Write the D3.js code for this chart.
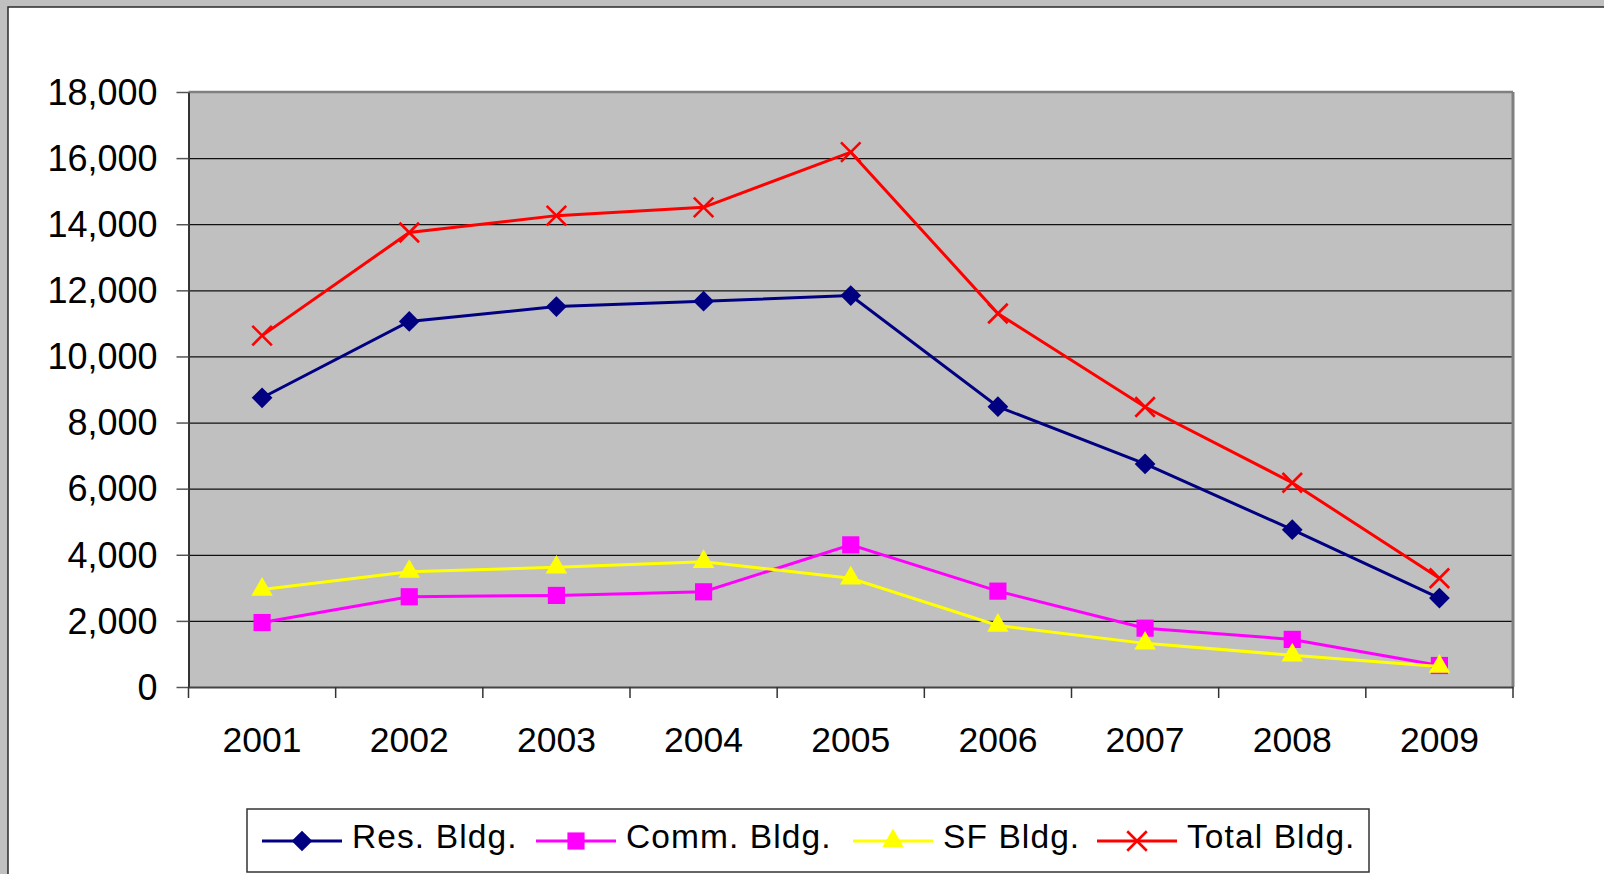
<!DOCTYPE html>
<html>
<head>
<meta charset="utf-8">
<script src="https://cdn.jsdelivr.net/npm/d3@7"></script>
<style>
  html, body { margin: 0; padding: 0; background: #c0c0c0; overflow: hidden; }
  svg { display: block; }
  text { font-family: "Liberation Sans", Arial, sans-serif; fill: #000; }
</style>
</head>
<body>
<svg id="chart" width="1604" height="874"></svg>
<script>
const years = ["2001","2002","2003","2004","2005","2006","2007","2008","2009"];
const resBldg   = [8750, 11060, 11510, 11670, 11840, 8480, 6750, 4760, 2690];
const commBldg  = [1950, 2730, 2770, 2880, 4300, 2900, 1780, 1440, 650];
const sfBldg    = [2950, 3490, 3620, 3790, 3290, 1860, 1320, 960, 620];
const totalBldg = [10630, 13750, 14260, 14510, 16180, 11300, 8470, 6180, 3290];
const yTicks = [0, 2000, 4000, 6000, 8000, 10000, 12000, 14000, 16000, 18000];
const seriesNames = ["Res. Bldg.", "Comm. Bldg.", "SF Bldg.", "Total Bldg."];

const series = [
  { name: seriesNames[0], values: resBldg,   color: "#000080", marker: "diamond" },
  { name: seriesNames[1], values: commBldg,  color: "#ff00ff", marker: "square" },
  { name: seriesNames[2], values: sfBldg,    color: "#ffff00", marker: "triangle" },
  { name: seriesNames[3], values: totalBldg, color: "#ff0000", marker: "x" }
];

const svg = d3.select("#chart");

// chart area (white panel)
svg.append("rect").attr("x", 8).attr("y", 7).attr("width", 1620).attr("height", 900)
  .attr("fill", "#fff").attr("stroke", "#2a2a2a").attr("stroke-width", 1.5);

const plot = { left: 188.5, top: 92, right: 1513, bottom: 687 };

const x = d3.scaleBand().domain(years).range([plot.left, plot.right]).paddingInner(0).paddingOuter(0);
const y = d3.scaleLinear().domain([0, 18000]).range([plot.bottom, plot.top]);

// plot background
svg.append("rect").attr("x", plot.left).attr("y", plot.top)
  .attr("width", plot.right - plot.left).attr("height", plot.bottom - plot.top)
  .attr("fill", "#c0c0c0");

// gridlines
svg.append("g").attr("transform", `translate(${plot.left},0)`)
  .call(d3.axisLeft(y).tickValues(yTicks.filter(v => v > 0 && v < 18000)).tickSize(-(plot.right - plot.left)).tickFormat(""))
  .call(g => g.select(".domain").remove())
  .call(g => g.selectAll("line").attr("stroke", "#111").attr("stroke-width", 1.2));

// plot border top/right
svg.append("line").attr("x1", plot.left).attr("x2", plot.right).attr("y1", plot.top).attr("y2", plot.top)
  .attr("stroke", "#808080").attr("stroke-width", 2.5);
svg.append("line").attr("x1", plot.right).attr("x2", plot.right).attr("y1", plot.top).attr("y2", plot.bottom)
  .attr("stroke", "#808080").attr("stroke-width", 3);

// y axis
svg.append("g").attr("transform", `translate(${plot.left},0)`)
  .call(d3.axisLeft(y).tickValues(yTicks).tickSize(12).tickPadding(19).tickFormat(d3.format(",")).tickSizeOuter(0))
  .call(g => g.select(".domain").attr("stroke", "#333").attr("stroke-width", 2))
  .call(g => g.selectAll(".tick line").attr("stroke", "#555").attr("stroke-width", 1.5))
  .call(g => g.selectAll("text").attr("font-size", 36).attr("font-family", "Liberation Sans, Arial, sans-serif").attr("fill", "#000").attr("dy", "0.34em"));

// x axis
const xg = svg.append("g").attr("transform", `translate(0,${plot.bottom})`)
  .call(d3.axisBottom(x).tickSize(0).tickPadding(40).tickSizeOuter(0))
  .call(g => g.select(".domain").attr("stroke", "#444").attr("stroke-width", 2))
  .call(g => g.selectAll("text").attr("font-size", 35.5).attr("font-family", "Liberation Sans, Arial, sans-serif").attr("fill", "#000"));
const bounds = years.map(d => x(d)).concat([x(years[years.length - 1]) + x.bandwidth()]);
xg.selectAll(".bound").data(bounds).join("line").attr("class", "bound")
  .attr("x1", d => d).attr("x2", d => d).attr("y1", 0).attr("y2", 11)
  .attr("stroke", "#333").attr("stroke-width", 1.5);

// markers
function markerPath(type) {
  if (type === "diamond") return d3.symbol(d3.symbolSquare, 215)();
  if (type === "square") return d3.symbol(d3.symbolSquare, 295)();
  if (type === "triangle") return d3.symbol(d3.symbolTriangle, 200)();
  return d3.symbol(d3.symbolX, 250)();
}
function drawMarker(g, type, color) {
  const p = g.append("path").attr("d", markerPath(type));
  if (type === "x") p.attr("fill", "none").attr("stroke", color).attr("stroke-width", 2.6);
  else p.attr("fill", color).attr("stroke", "none");
  if (type === "diamond") p.attr("transform", "rotate(45)");
}

const cx = d => x(d) + x.bandwidth() / 2;
const line = d3.line().x((v, i) => cx(years[i])).y(v => y(v));

series.forEach(s => {
  svg.append("path").datum(s.values).attr("d", line)
    .attr("fill", "none").attr("stroke", s.color).attr("stroke-width", 3);
  s.values.forEach((v, i) => {
    const g = svg.append("g").attr("transform", `translate(${cx(years[i])},${y(v)})`);
    drawMarker(g, s.marker, s.color);
  });
});

// legend
const lg = svg.append("g");
lg.append("rect").attr("x", 247).attr("y", 809).attr("width", 1122).attr("height", 63)
  .attr("fill", "#fff").attr("stroke", "#333").attr("stroke-width", 1.5);
const legendX = [262, 536, 853, 1097];
series.forEach((s, i) => {
  const g = lg.append("g").attr("transform", `translate(${legendX[i]},841)`);
  g.append("line").attr("x1", 0).attr("x2", 80).attr("y1", 0).attr("y2", 0)
    .attr("stroke", s.color).attr("stroke-width", 3);
  const m = g.append("g").attr("transform", "translate(40,0)");
  drawMarker(m, s.marker, s.color);
  g.append("text").attr("x", 90).attr("y", 7).attr("font-size", 33.5)
    .attr("letter-spacing", 1.1).text(s.name);
});
</script>
</body>
</html>
